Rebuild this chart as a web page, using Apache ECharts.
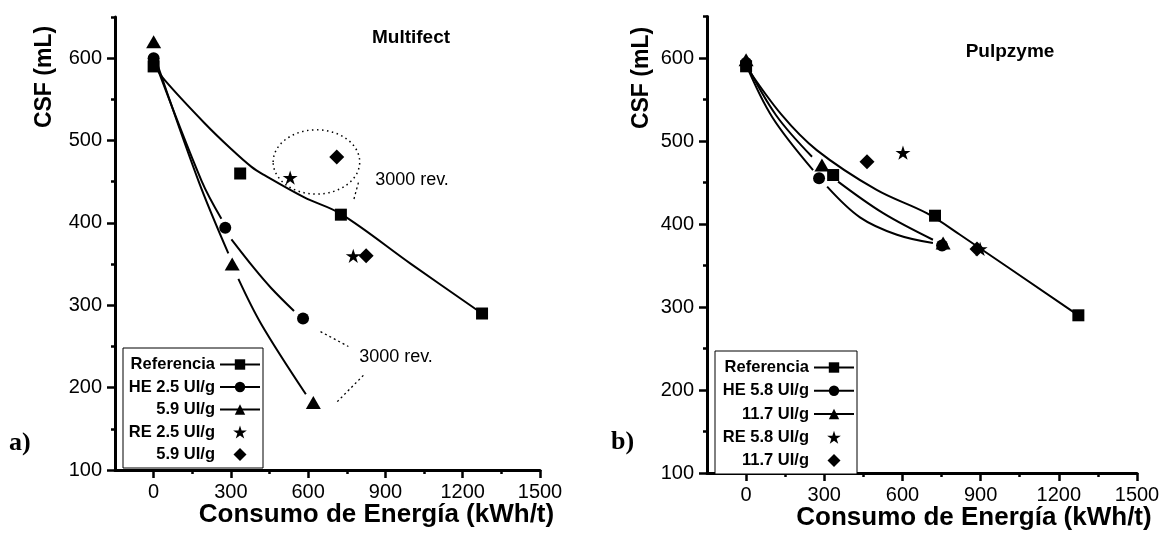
<!DOCTYPE html>
<html><head><meta charset="utf-8">
<script src="https://cdn.jsdelivr.net/npm/echarts@6/dist/echarts.min.js"></script>
<style>html,body{margin:0;padding:0;background:#fff}#c{width:1163px;height:535px}</style>
</head><body><div id="c"></div>
<script>
// ---------------- data ----------------
const xMajorTicks = [0, 300, 600, 900, 1200, 1500];
const xMinorTicks = [150, 450, 750, 1050, 1350];
const yMajorTicks = [100, 200, 300, 400, 500, 600];
const yMinorTicks = [150, 250, 350, 450, 550, 650];

const legendLabelsA = ['Referencia', 'HE 2.5 UI/g', '5.9 UI/g', 'RE 2.5 UI/g', '5.9 UI/g'];
const legendLabelsB = ['Referencia', 'HE 5.8 UI/g', '11.7 UI/g', 'RE 5.8 UI/g', '11.7 UI/g'];

// panel a) Multifect — measured points
const refPtsA = [[0, 590], [336, 460], [727, 410], [1275, 290]];
const he1PtsA = [[0, 600], [278, 394], [580, 284]];
const he2PtsA = [[0, 620], [305, 350], [620, 182]];
const re1PtsA = [[530, 455], [775, 360]];
const re2PtsA = [[711, 480], [825, 360]];
// panel a) fitted curves (segments, read from the picture)
const refCurveA = [[[0, 593], [44, 573], [198, 521], [300, 490], [380, 468], [430, 458], [585, 431], [727, 411], [1000, 350], [1275, 290]]];
const he1CurveA = [[[0, 600], [186, 451], [263, 405]], [[302, 380], [390, 345], [456, 321], [545, 293]]];
const he2CurveA = [[[0, 606], [174, 451], [290, 363]], [[329, 332], [418, 277], [591, 192]]];

// panel b) Pulpzyme — measured points
const refPtsB = [[0, 590], [334, 459], [725, 410], [1275, 290]];
const he1PtsB = [[0, 594], [280, 455], [752, 374]];
const he2PtsB = [[0, 598], [291, 471], [756, 377]];
const re1PtsB = [[602, 486], [898, 370]];
const re2PtsB = [[464, 475], [886, 370]];
// panel b) fitted curves
const refCurveB = [[[0, 590], [135, 532], [271, 489], [501, 441], [693, 413], [821, 387], [1275, 290]]];
const he1CurveB = [[[0, 592], [100, 529], [257, 465]], [[311, 445], [437, 408], [579, 387], [717, 377]]];
const he2CurveB = [[[0, 593], [115, 531], [253, 481]], [[353, 451], [526, 413], [717, 381]]];

// annotations panel a (data units): ellipse [cx, cy, rx, ry], arrows [from, to]
const ellipseA = [[632, 474, 168, 39]];
const arrowsA = [[[795, 449], [776, 427]], [[648, 268], [756, 250]], [[713, 183], [821, 217]]];

// ---------------- chart ----------------
const FONT = "'Liberation Sans', Arial, sans-serif";
const BLACK = '#000';
const STAR = 'path://M50,0 L61.2,34.5 L97.6,34.5 L68.2,55.9 L79.4,90.5 L50,69.1 L20.6,90.5 L31.8,55.9 L2.4,34.5 L38.8,34.5 Z';
const DIAMOND = 'path://M50,0 L100,50 L50,100 L0,50 Z';

function axisX(gridIndex, minor) {
  return {
    type: 'value', gridIndex, min: -150, max: 1500, position: 'bottom',
    axisLine: { show: !minor, onZero: false, lineStyle: { color: BLACK, width: 3 } },
    axisTick: { show: true, inside: false, length: minor ? 4 : 8,
      customValues: minor ? xMinorTicks : xMajorTicks, lineStyle: { color: BLACK, width: 2.5 } },
    axisLabel: { show: !minor, customValues: xMajorTicks, margin: 12, formatter: v => String(v),
      fontFamily: FONT, fontSize: 20, color: BLACK },
    splitLine: { show: false }
  };
}
function axisY(gridIndex, minor) {
  return {
    type: 'value', gridIndex, min: 100, max: 650, position: 'left',
    axisLine: { show: !minor, onZero: false, lineStyle: { color: BLACK, width: 3 } },
    axisTick: { show: true, inside: false, length: minor ? 4 : 8,
      customValues: minor ? yMinorTicks : yMajorTicks, lineStyle: { color: BLACK, width: 2.5 } },
    axisLabel: { show: !minor, customValues: yMajorTicks, margin: 13, formatter: v => String(v),
      fontFamily: FONT, fontSize: 20, color: BLACK },
    splitLine: { show: false }
  };
}

function curveSeries(name, segs, symbol, xi, yi) {
  return segs.map((seg, i) => ({
    type: 'line', name: i === 0 ? name : name + '#' + i,
    xAxisIndex: xi, yAxisIndex: yi, data: seg,
    smooth: 0.35, showSymbol: false, symbol: symbol, symbolSize: 12,
    lineStyle: { color: BLACK, width: 2 }, itemStyle: { color: BLACK },
    silent: true, z: 2
  }));
}
function pointSeries(name, pts, symbol, size, xi, yi, extra) {
  return Object.assign({
    type: 'scatter', name, xAxisIndex: xi, yAxisIndex: yi, data: pts,
    symbol, symbolSize: size, symbolKeepAspect: true, itemStyle: { color: BLACK, opacity: 1 },
    silent: true, z: 5
  }, extra || {});
}

const labelMap = {
  'A|ref': legendLabelsA[0], 'A|he1': legendLabelsA[1], 'A|he2': legendLabelsA[2],
  'A|re1': legendLabelsA[3], 'A|re2': legendLabelsA[4],
  'B|ref': legendLabelsB[0], 'B|he1': legendLabelsB[1], 'B|he2': legendLabelsB[2],
  'B|re1': legendLabelsB[3], 'B|re2': legendLabelsB[4]
};

function legendFor(prefix, left, top, textW, gap) {
  return {
    orient: 'vertical', left, top, align: 'right', selectedMode: false,
    data: ['ref', 'he1', 'he2', 're1', 're2'].map(k => prefix + '|' + k),
    itemWidth: 40, itemHeight: 13, itemGap: gap, symbolKeepAspect: true,
    padding: [8, 2, 5, 4], borderColor: BLACK, borderWidth: 1, borderRadius: 0,
    backgroundColor: '#fff',
    formatter: n => '{t|' + labelMap[n] + '}',
    textStyle: { color: BLACK, rich: { t: { width: textW, align: 'right', fontFamily: FONT,
      fontWeight: 'bold', fontSize: 16.5, lineHeight: 16, color: BLACK } } }
  };
}

const series = [];
// panel a
series.push(...curveSeries('A|ref', refCurveA, 'rect', 0, 0));
series.push(...curveSeries('A|he1', he1CurveA, 'circle', 0, 0));
series.push(...curveSeries('A|he2', he2CurveA, 'triangle', 0, 0));
series.push(pointSeries('A|refPts', refPtsA, 'rect', 12, 0, 0, {
  markLine: { silent: true, symbol: ['none', 'arrow'], symbolSize: [0, 7],
    lineStyle: { color: BLACK, width: 1.3, type: [2, 3] }, label: { show: false },
    data: arrowsA.map(a => [{ coord: a[0] }, { coord: a[1] }]) }
}));
series.push(pointSeries('A|he1Pts', he1PtsA, 'circle', 12, 0, 0));
series.push(pointSeries('A|he2Pts', he2PtsA, 'triangle', [15, 13], 0, 0));
series.push(pointSeries('A|re1', re1PtsA, STAR, 15, 0, 0));
series.push(pointSeries('A|re2', re2PtsA, DIAMOND, 15, 0, 0));
series.push({
  type: 'custom', name: 'A|ellipse', xAxisIndex: 0, yAxisIndex: 0, data: ellipseA, silent: true, z: 1,
  renderItem: (params, api) => {
    const c = api.coord([api.value(0), api.value(1)]);
    const s = api.size([api.value(2), api.value(3)]);
    return { type: 'ellipse', shape: { cx: c[0], cy: c[1], rx: s[0], ry: s[1] },
      style: { fill: 'none', stroke: BLACK, lineWidth: 1.5, lineDash: [1.5, 3.5] } };
  }
});
// panel b
series.push(...curveSeries('B|ref', refCurveB, 'rect', 2, 2));
series.push(...curveSeries('B|he1', he1CurveB, 'circle', 2, 2));
series.push(...curveSeries('B|he2', he2CurveB, 'triangle', 2, 2));
series.push(pointSeries('B|refPts', refPtsB, 'rect', 12, 2, 2));
series.push(pointSeries('B|he1Pts', he1PtsB, 'circle', 12, 2, 2));
series.push(pointSeries('B|he2Pts', he2PtsB, 'triangle', [15, 13], 2, 2));
series.push(pointSeries('B|re1', re1PtsB, STAR, 15, 2, 2));
series.push(pointSeries('B|re2', re2PtsB, DIAMOND, 15, 2, 2));

function txt(text, x, y, size, weight, opts) {
  return Object.assign({
    type: 'text', x, y, silent: true, z: 10,
    style: { text, fill: BLACK, font: (weight || 'normal') + ' ' + size + 'px ' + FONT,
      textAlign: 'center', textVerticalAlign: 'middle' }
  }, opts || {});
}

const option = {
  animation: false,
  backgroundColor: '#fff',
  grid: [
    { left: 115, top: 17, width: 425, height: 453 },
    { left: 707, top: 16.5, width: 430, height: 456.5 }
  ],
  xAxis: [axisX(0, false), axisX(0, true), axisX(1, false), axisX(1, true)],
  yAxis: [axisY(0, false), axisY(0, true), axisY(1, false), axisY(1, true)],
  legend: [legendFor('A', 123, 348, 88, 5.5), legendFor('B', 715, 351, 90, 6.25)],
  series,
  graphic: [
    txt('Consumo de Energía (kWh/t)', 376.5, 515, 26, 'bold'),
    txt('Consumo de Energía (kWh/t)', 974, 518, 26, 'bold'),
    txt('CSF (mL)', 45, 77, 23, 'bold', { rotation: Math.PI / 2 }),
    txt('CSF (mL)', 642, 78, 23, 'bold', { rotation: Math.PI / 2 }),
    txt('Multifect', 411, 38, 19, 'bold'),
    txt('Pulpzyme', 1010, 52, 19, 'bold'),
    txt('3000 rev.', 412, 180, 18, 'normal'),
    txt('3000 rev.', 396, 357, 18, 'normal'),
    { type: 'text', x: 9, y: 443, silent: true,
      style: { text: 'a)', fill: BLACK, font: "bold 26px 'Liberation Serif', 'Times New Roman', serif",
        textAlign: 'left', textVerticalAlign: 'middle' } },
    { type: 'text', x: 611, y: 442, silent: true,
      style: { text: 'b)', fill: BLACK, font: "bold 26px 'Liberation Serif', 'Times New Roman', serif",
        textAlign: 'left', textVerticalAlign: 'middle' } }
  ]
};

const chart = echarts.init(document.getElementById('c'), null, { renderer: 'canvas' });
chart.setOption(option);
</script>
</body></html>
